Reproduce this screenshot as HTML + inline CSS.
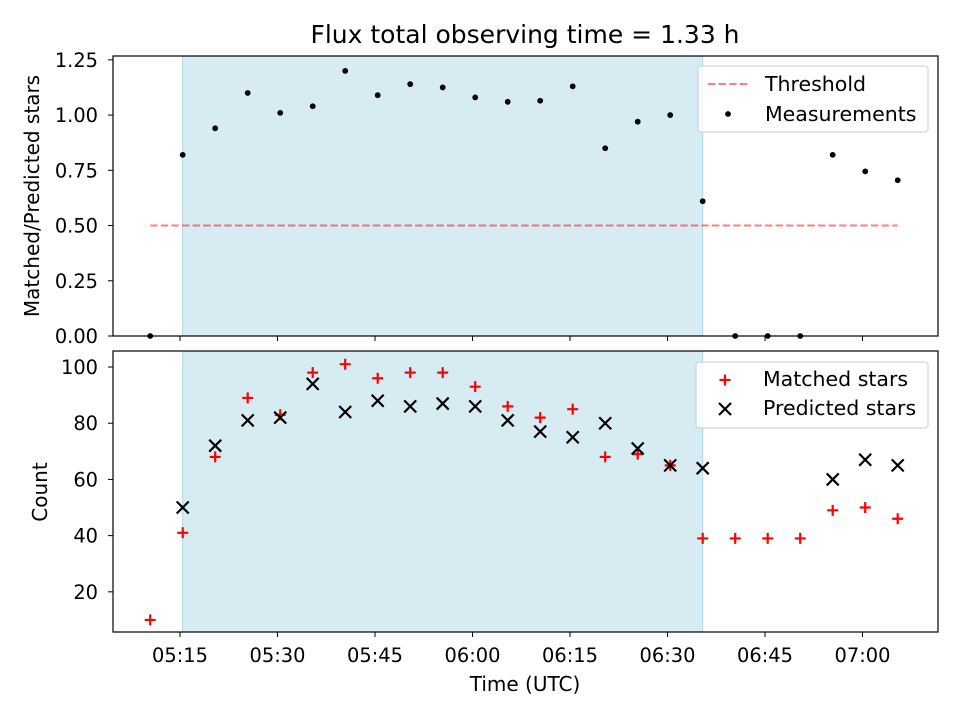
<!DOCTYPE html>
<html><head><meta charset="utf-8"><style>
body{margin:0;background:#fff}
svg{display:block;font-family:"DejaVu Sans","Liberation Sans",sans-serif}
</style></head><body>
<svg id="c" width="960" height="720" viewBox="0 0 960 720"></svg>
<script>
const times=["05:10:25","05:15:25","05:20:25","05:25:25","05:30:25","05:35:25","05:40:25","05:45:25","05:50:25","05:55:25","06:00:25","06:05:25","06:10:25","06:15:25","06:20:25","06:25:25","06:30:25","06:35:25","06:40:25","06:45:25","06:50:25","06:55:25","07:00:25","07:05:25"];
const ratio=[0,0.82,0.94,1.10,1.01,1.04,1.20,1.09,1.14,1.125,1.08,1.06,1.065,1.13,0.85,0.97,1.00,0.61,0,0,0,0.82,0.745,0.705];
const matched=[10,41,68,89,83,98,101,96,98,98,93,86,82,85,68,69,65,39,39,39,39,49,50,46];
const predicted=[null,50,72,81,82,94,84,88,86,87,86,81,77,75,80,71,65,64,null,null,null,60,67,65];
const xTicks=["05:15","05:30","05:45","06:00","06:15","06:30","06:45","07:00"];
const topTicks=[0,0.25,0.5,0.75,1.0,1.25];
const botTicks=[20,40,60,80,100];
const threshold=0.5;
const spanStart="05:15:25", spanEnd="06:35:25";

const FT=19.4, FL=20, FTI=25, FLG=20.5;
const NS="http://www.w3.org/2000/svg";
const svg=document.getElementById('c');
function mk(t,a,p){const e=document.createElementNS(NS,t);for(const k in a)e.setAttribute(k,a[k]);(p||svg).appendChild(e);return e;}
function mins(s){const p=s.split(':').map(Number);return p[0]*60+p[1]+(p[2]||0)/60;}
const L=113,R=938;
const x=m=>180+(m-315)*97.5/15;
const T={top:56,bot:336,min:0,max:1.2674};
const B={top:351,bot:632,min:5.7,max:105.7};
const y1=v=>T.bot-(v-T.min)/(T.max-T.min)*(T.bot-T.top);
const y2=v=>B.bot-(v-B.min)/(B.max-B.min)*(B.bot-B.top);
const PS=5.5, XS=6;

function panel(P,yf,ticks,fmt,labelX,name){
  const g=mk('g',{});
  
  
  const sp=mk('rect',{x:x(mins(spanStart)),y:P.top,width:x(mins(spanEnd))-x(mins(spanStart)),height:P.bot-P.top,fill:'#add8e6','fill-opacity':0.5,stroke:'#add8e6','stroke-width':1},g);
  
  
  ticks.forEach(v=>{const yy=yf(v);mk('line',{x1:L-5,x2:L,y1:yy,y2:yy,stroke:'#000','stroke-width':1},g);
    const t=mk('text',{x:98,y:yy+7,'text-anchor':'end','font-size':FT},g);t.textContent=fmt(v);
    
    });
  xTicks.forEach(s=>{const xx=x(mins(s));mk('line',{x1:xx,x2:xx,y1:P.bot,y2:P.bot+5,stroke:'#000','stroke-width':1},g);
    if(labelX){const t=mk('text',{x:xx,y:662,'text-anchor':'middle','font-size':FT},g);t.textContent=s;
      
      }});
  return g;
}
const gt=panel(T,y1,topTicks,v=>v.toFixed(2),false,'ratio-panel');
const th=mk('line',{x1:x(mins(times[0])),x2:x(mins(times[times.length-1])),y1:y1(threshold),y2:y1(threshold),stroke:'#ff0000','stroke-opacity':0.5,'stroke-width':2,'stroke-dasharray':'7.4,3.2'},gt);


ratio.forEach((v,i)=>{if(v==null)return;const c=mk('circle',{cx:x(mins(times[i])),cy:y1(v),r:2.9,fill:'#000'},gt);
  
  });
mk('rect',{x:L,y:T.top,width:R-L,height:T.bot-T.top,fill:'none',stroke:'#000','stroke-width':1.2},gt);

const gb=panel(B,y2,botTicks,v=>String(v),true,'count-panel');
matched.forEach((v,i)=>{if(v==null)return;const cx=x(mins(times[i])),cy=y2(v);
  const p=mk('path',{d:`M${cx-PS} ${cy}H${cx+PS}M${cx} ${cy-PS}V${cy+PS}`,stroke:'#ff0000','stroke-width':2.2},gb);
  
  });
predicted.forEach((v,i)=>{if(v==null)return;const cx=x(mins(times[i])),cy=y2(v);
  const p=mk('path',{d:`M${cx-XS} ${cy-XS}L${cx+XS} ${cy+XS}M${cx-XS} ${cy+XS}L${cx+XS} ${cy-XS}`,stroke:'#000','stroke-width':2.2},gb);
  
  });
mk('rect',{x:L,y:B.top,width:R-L,height:B.bot-B.top,fill:'none',stroke:'#000','stroke-width':1.2},gb);

function txt(s,a,name,parent){const t=mk('text',a,parent);t.textContent=s;
  
  
  return t;}
txt('Flux total observing time = 1.33 h',{x:525,y:43,'text-anchor':'middle','font-size':FTI},'chart-title');
txt('Time (UTC)',{x:525,y:691,'text-anchor':'middle','font-size':FL},'x-axis-title');
txt('Matched/Predicted stars',{x:39,y:196,'text-anchor':'middle','font-size':FL,transform:'rotate(-90 39 196)'},'top-y-axis-title');
txt('Count',{x:47,y:492,'text-anchor':'middle','font-size':FL,transform:'rotate(-90 47 492)'},'bottom-y-axis-title');

const lg1=mk('g',{});


mk('rect',{x:698,y:66,width:230,height:66,rx:3,fill:'#fff','fill-opacity':0.8,stroke:'#ccc'},lg1);
mk('line',{x1:708,x2:748,y1:84,y2:84,stroke:'#ff0000','stroke-opacity':0.5,'stroke-width':2,'stroke-dasharray':'7.4,3.2'},lg1);
mk('circle',{cx:728,cy:114,r:2.9,fill:'#000'},lg1);
txt('Threshold',{x:765,y:91,'font-size':FLG},'legend-threshold',lg1);
txt('Measurements',{x:765,y:121,'font-size':FLG},'legend-measurements',lg1);

const lg2=mk('g',{});


mk('rect',{x:696,y:362,width:232,height:66,rx:3,fill:'#fff','fill-opacity':0.8,stroke:'#ccc'},lg2);
mk('path',{d:'M719.5 380H730.5M725 374.5V385.5',stroke:'#ff0000','stroke-width':2.2},lg2);
mk('path',{d:'M719 403L731 415M719 415L731 403',stroke:'#000','stroke-width':2.2},lg2);
txt('Matched stars',{x:763,y:386,'font-size':FLG},'legend-matched',lg2);
txt('Predicted stars',{x:763,y:415,'font-size':FLG},'legend-predicted',lg2);
</script>
</body></html>
